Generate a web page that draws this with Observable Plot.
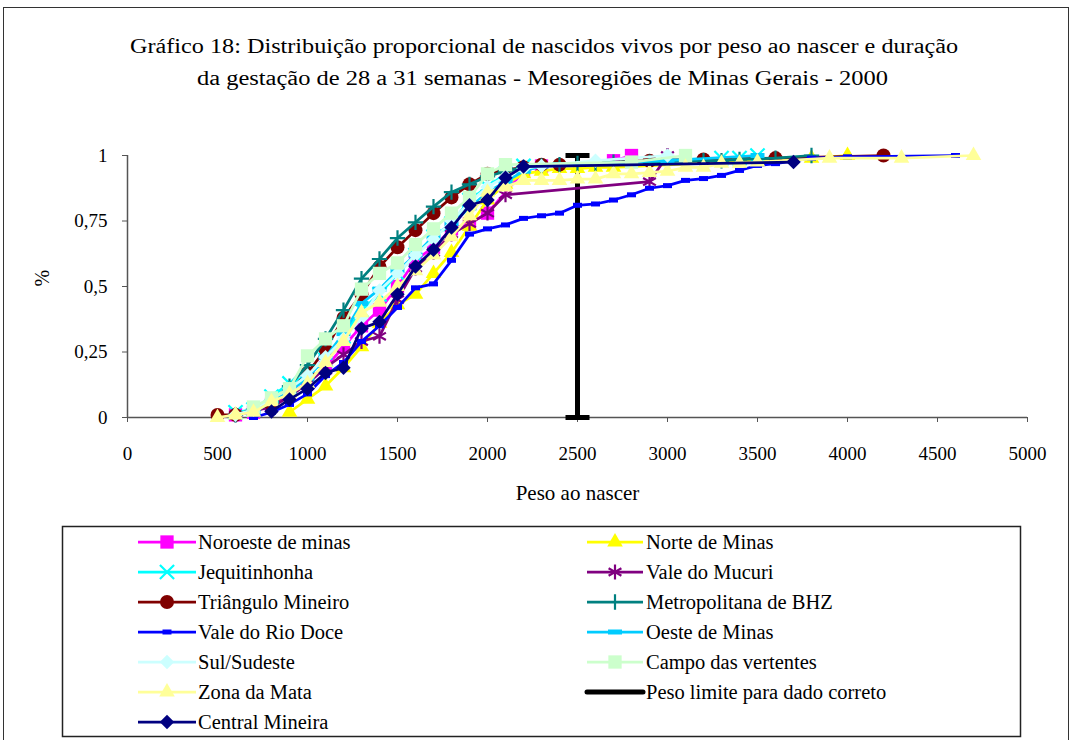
<!DOCTYPE html>
<html>
<head>
<meta charset="utf-8">
<script src="https://cdn.jsdelivr.net/npm/d3@7"></script>
<script src="https://cdn.jsdelivr.net/npm/@observablehq/plot@0.6"></script>
<style>
  html, body { margin: 0; padding: 0; background: #fff; }
  #wrap { position: relative; width: 1074px; height: 740px; overflow: hidden; font-family: 'Liberation Serif', 'Times New Roman', serif; }
  #frame { position: absolute; left: 3px; top: 7px; width: 1066px; height: 760px; border: 1.5px solid #333; box-sizing: border-box; }
  #chart { position: absolute; left: 0; top: 0; }
  #overlay { position: absolute; left: 0; top: 0; }
</style>
</head>
<body>
<div id="wrap">
  <div id="frame"></div>
  <div id="chart"></div>
  <div id="overlay"></div>
</div>
<script>
// ---------- data (peso ao nascer, proporção acumulada) ----------
const titleLines = [
  "Gráfico 18: Distribuição proporcional de nascidos vivos por peso ao nascer e duração",
  "da gestação de 28 a 31 semanas - Mesoregiões de Minas Gerais - 2000"
];

const noroesteX = [600,700,800,900,1000,1100,1200,1300,1400,1500,1600,1700,1800,1900,2000,2200,2300,2700,2800];
const noroesteY = [0.01,0.02,0.05,0.09,0.13,0.19,0.27,0.35,0.41,0.5,0.6,0.65,0.72,0.74,0.78,0.94,0.96,0.98,1.0];

const norteX = [900,1000,1100,1200,1300,1400,1500,1600,1700,1800,1900,2000,2100,2200,2300,2400,2500,2600,2700,3800,4000];
const norteY = [0.02,0.07,0.12,0.19,0.27,0.36,0.43,0.47,0.55,0.63,0.73,0.83,0.89,0.93,0.94,0.95,0.95,0.955,0.955,0.99,1.0];

const jequiX = [600,700,800,900,1000,1100,1200,1300,1400,1500,1600,1700,1800,1900,2000,2100,2200,3300,3400,3500];
const jequiY = [0.02,0.03,0.08,0.13,0.16,0.22,0.31,0.41,0.47,0.55,0.62,0.69,0.74,0.83,0.88,0.93,0.96,0.99,0.99,1.0];

const mucuriX = [600,800,900,1000,1100,1200,1300,1400,1500,1600,1700,1800,1900,2000,2100,2900,3000];
const mucuriY = [0.01,0.04,0.08,0.13,0.19,0.24,0.29,0.31,0.45,0.57,0.63,0.7,0.74,0.78,0.85,0.9,1.0];

const trianguloX = [500,600,800,900,1000,1100,1200,1300,1400,1500,1600,1700,1800,1900,2000,2100,2200,2300,2400,2900,3200,3600,4200];
const trianguloY = [0.01,0.01,0.05,0.1,0.17,0.26,0.38,0.47,0.575,0.65,0.715,0.78,0.84,0.89,0.93,0.945,0.955,0.965,0.965,0.98,0.985,0.99,1.0];

const metroX = [600,700,800,900,1000,1100,1200,1300,1400,1500,1600,1700,1800,1900,2000,2100,2200,2300,2400,2500,2600,2700,2900,3200,3300,3400,3600,3800];
const metroY = [0.01,0.03,0.06,0.12,0.2,0.3,0.41,0.53,0.605,0.685,0.745,0.805,0.86,0.89,0.92,0.94,0.955,0.96,0.965,0.97,0.97,0.975,0.975,0.98,0.98,0.985,0.99,1.0];

const rioDoceX = [700,800,900,1000,1100,1200,1300,1400,1500,1600,1700,1800,1900,2000,2100,2200,2300,2400,2500,2600,2700,2800,2900,3000,3100,3200,3300,3400,3500,3600,3800,4000,4600];
const rioDoceY = [0.0,0.02,0.05,0.09,0.16,0.21,0.29,0.35,0.42,0.495,0.51,0.6,0.7,0.72,0.735,0.76,0.77,0.78,0.81,0.815,0.83,0.85,0.875,0.885,0.905,0.912,0.924,0.943,0.962,0.969,0.99,0.995,1.0];

const oesteX = [700,800,900,1000,1100,1200,1300,1400,1500,1600,1700,1800,1900,2000,2100,2200,2300,2400,3000,3500];
const oesteY = [0.02,0.06,0.1,0.15,0.23,0.32,0.435,0.49,0.56,0.62,0.69,0.74,0.8,0.86,0.9,0.94,0.96,0.965,0.98,1.0];

const sulX = [600,700,800,900,1000,1100,1200,1300,1400,1500,1600,1700,1800,1900,2000,2100,2200,2300,2600,3000];
const sulY = [0.01,0.03,0.07,0.11,0.16,0.23,0.3,0.38,0.485,0.55,0.62,0.68,0.75,0.82,0.88,0.92,0.95,0.96,0.98,1.0];

const campoX = [700,800,900,1000,1100,1200,1300,1400,1500,1600,1700,1800,1900,2000,2100,2800,3100];
const campoY = [0.04,0.075,0.11,0.235,0.3,0.35,0.49,0.55,0.59,0.66,0.72,0.78,0.84,0.93,0.965,0.975,1.0];

const zonaX = [500,600,700,800,900,1000,1100,1200,1300,1400,1500,1600,1700,1800,1900,2000,2100,2200,2300,2400,2500,2600,2700,2800,2900,3000,3100,3200,3300,3400,3500,3900,4300,4700];
const zonaY = [0.0,0.01,0.02,0.06,0.09,0.13,0.21,0.29,0.4,0.44,0.5,0.56,0.62,0.69,0.77,0.86,0.88,0.905,0.905,0.905,0.91,0.91,0.93,0.93,0.935,0.94,0.955,0.955,0.97,0.97,0.975,0.99,0.99,1.0];

const limiteX = [2500,2500];
const limiteY = [0,1];

const centralX = [800,900,1000,1100,1200,1300,1400,1500,1600,1700,1800,1900,2000,2100,2200,3700];
const centralY = [0.023,0.069,0.11,0.17,0.19,0.34,0.365,0.47,0.576,0.64,0.725,0.81,0.83,0.915,0.958,0.975];

const xTicks = [0,500,1000,1500,2000,2500,3000,3500,4000,4500,5000];
const yTicks = [0,0.25,0.5,0.75,1];

// ---------- symbols ----------
const dashSmall = {draw(ctx){ ctx.rect(-4.5,-2.5,9,5); }};
const dashWide = {draw(ctx){ ctx.rect(-7,-2.5,14,5); }};
const capSym = {draw(ctx){ ctx.rect(-12,-2.5,24,5); }};

// series config (legend order)
const series = [
  {name:"Noroeste de minas", x:noroesteX, y:noroesteY, color:"#FF00FF", symbol:"square", r:7.5, kind:"fill"},
  {name:"Norte de Minas", x:norteX, y:norteY, color:"#FFFF00", symbol:"triangle", r:5.8, kind:"fill"},
  {name:"Jequitinhonha", x:jequiX, y:jequiY, color:"#00FFFF", symbol:"times", r:6.5, kind:"stroke"},
  {name:"Vale do Mucuri", x:mucuriX, y:mucuriY, color:"#800080", symbol:"asterisk", r:7, kind:"stroke"},
  {name:"Triângulo Mineiro", x:trianguloX, y:trianguloY, color:"#800000", symbol:"circle", r:7, kind:"fill"},
  {name:"Metropolitana de BHZ", x:metroX, y:metroY, color:"#008080", symbol:"plus", r:5, kind:"stroke"},
  {name:"Vale do Rio Doce", x:rioDoceX, y:rioDoceY, color:"#0000FF", symbol:dashSmall, r:3, kind:"fill"},
  {name:"Oeste de Minas", x:oesteX, y:oesteY, color:"#00CCFF", symbol:dashWide, r:3, kind:"fill"},
  {name:"Sul/Sudeste", x:sulX, y:sulY, color:"#CCFFFF", symbol:"diamond2", r:6.5, kind:"fill"},
  {name:"Campo das vertentes", x:campoX, y:campoY, color:"#CCFFCC", symbol:"square", r:7.5, kind:"fill"},
  {name:"Zona da Mata", x:zonaX, y:zonaY, color:"#FFFF99", symbol:"triangle", r:5.8, kind:"fill"},
  {name:"Peso limite para dado correto", x:limiteX, y:limiteY, color:"#000000", symbol:capSym, r:3, kind:"fill", width:5},
  {name:"Central Mineira", x:centralX, y:centralY, color:"#000080", symbol:"diamond2", r:6.5, kind:"fill"}
];

// drawing order: peso limite first (it lies beneath the other series)
const drawOrder = [series[11], ...series.filter((s,i)=>i!==11)];

const marks = [];
for (const s of drawOrder) {
  const rows = s.x.map((x,i)=>({peso:x, prop:s.y[i]}));
  marks.push(Plot.line(rows, {x:"peso", y:"prop", stroke:s.color, strokeWidth:s.width||2.75}));
  if (s.kind === "fill") {
    marks.push(Plot.dot(rows, {x:"peso", y:"prop", symbol:s.symbol, r:s.r, fill:s.color, stroke:"none"}));
  } else {
    marks.push(Plot.dot(rows, {x:"peso", y:"prop", symbol:s.symbol, r:s.r, fill:"none", stroke:s.color, strokeWidth:2.2}));
  }
}

const FONT = "'Liberation Serif', 'Times New Roman', serif";

const chart = Plot.plot({
  width: 1074,
  height: 520,
  marginLeft: 127,
  marginRight: 47,
  marginTop: 155,
  marginBottom: 103,
  style: {fontFamily: FONT, fontSize: "19px", color: "#000", background: "transparent", overflow: "visible"},
  x: {domain:[0,5000]},
  y: {domain:[0,1]},
  marks: [
    Plot.axisX({ticks:xTicks, tickFormat:d=>String(d), tickSize:5, tickPadding:24, label:null, stroke:"#555", fontSize:19}),
    Plot.axisY({ticks:yTicks, tickFormat:d=>String(d).replace(".", ","), tickSize:5, tickPadding:15, label:null, stroke:"#555", fontSize:19}),
    Plot.ruleY([0], {stroke:"#555", strokeWidth:1.5}),
    Plot.ruleX([0], {stroke:"#555", strokeWidth:1.5}),
    ...marks,
    Plot.text(["Peso ao nascer"], {text:d=>d, frameAnchor:"bottom", dy:82, fontSize:21}),
    Plot.text(["%"], {text:d=>d, frameAnchor:"left", dx:-85, rotate:-90, fontSize:20})
  ]
});
document.getElementById("chart").appendChild(chart);

// ---------- title + legend ----------
const ov = d3.select("#overlay").append("svg").attr("width",1074).attr("height",740)
  .style("font-family",FONT);
const titleGeom = [{cx:544, cy:46, len:828}, {cx:542.5, cy:78, len:691}];
titleLines.forEach((t,i)=>{
  const g = titleGeom[i];
  ov.append("text").attr("x",g.cx - g.len/2).attr("y",g.cy).attr("dy","0.35em")
    .attr("font-size",20).attr("textLength",g.len).attr("lengthAdjust","spacingAndGlyphs").text(t);
});

ov.append("rect").attr("x",62.5).attr("y",526.5).attr("width",958).attr("height",210)
  .attr("fill","white").attr("stroke","#222").attr("stroke-width",1.5);
const col = [{x0:138, x1:196, tx:198}, {x0:587, x1:643, tx:646}];
const symMap = {square:d3.symbolSquare, triangle:d3.symbolTriangle, times:d3.symbolTimes, asterisk:d3.symbolAsterisk, circle:d3.symbolCircle, plus:d3.symbolPlus, diamond2:d3.symbolDiamond2};
series.forEach((s,i)=>{
  const c = col[i%2];
  const cy = 542 + 30*Math.floor(i/2);
  const cx = (c.x0+c.x1)/2;
  ov.append("line").attr("x1",c.x0).attr("x2",c.x1).attr("y1",cy).attr("y2",cy)
    .attr("stroke",s.color).attr("stroke-width",s.width||2.75)
    .attr("stroke-linecap", s.width ? "round" : "butt");
  if (s.name !== "Peso limite para dado correto") {
    const sym = typeof s.symbol === "string" ? symMap[s.symbol] : s.symbol;
    const path = d3.symbol(sym, Math.PI*s.r*s.r)();
    const p = ov.append("path").attr("d",path).attr("transform",`translate(${cx},${cy})`);
    if (s.kind === "fill") p.attr("fill",s.color); else p.attr("fill","none").attr("stroke",s.color).attr("stroke-width",2.2);
  }
  ov.append("text").attr("x",c.tx).attr("y",cy).attr("dy","0.35em").attr("font-size",20.5).text(s.name);
});
</script>
</body>
</html>
